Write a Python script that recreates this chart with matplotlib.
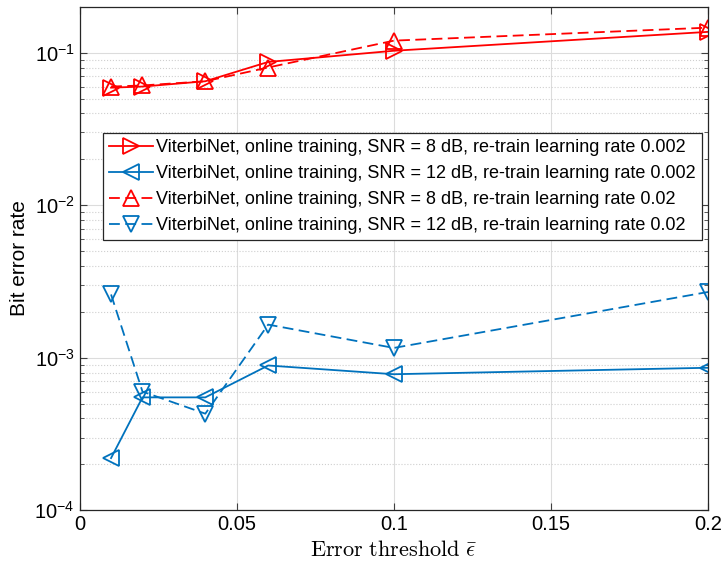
import matplotlib

matplotlib.use("Agg")
import matplotlib.pyplot as plt
from matplotlib.ticker import LogLocator, NullFormatter

plt.rcParams["font.family"] = ["Liberation Sans", "DejaVu Sans"]
plt.rcParams["mathtext.fontset"] = "custom"
plt.rcParams["mathtext.rm"] = "Liberation Sans"
plt.rcParams["mathtext.it"] = "Liberation Sans:italic"

# error thresholds
thresholds = [0.01, 0.02, 0.04, 0.06, 0.1, 0.2]

# bit error rates
ber_8db_lr0002 = [0.059, 0.060, 0.065, 0.087, 0.103, 0.137]
ber_12db_lr0002 = [2.2e-4, 5.5e-4, 5.5e-4, 8.9e-4, 7.8e-4, 8.6e-4]
ber_8db_lr002 = [0.060, 0.061, 0.065, 0.080, 0.120, 0.146]
ber_12db_lr002 = [2.6e-3, 6.0e-4, 4.3e-4, 1.65e-3, 1.16e-3, 2.7e-3]

labels = [
    "ViterbiNet, online training, SNR = 8 dB, re-train learning rate 0.002",
    "ViterbiNet, online training, SNR = 12 dB, re-train learning rate 0.002",
    "ViterbiNet, online training, SNR = 8 dB, re-train learning rate 0.02",
    "ViterbiNet, online training, SNR = 12 dB, re-train learning rate 0.02",
]

red = "#FF0000"
blue = "#0072BD"

fig = plt.figure(figsize=(7.24, 5.67), dpi=100)
ax = fig.add_axes([0.11, 0.1, 0.868, 0.888])

mk = dict(markersize=11, markerfacecolor="none", markeredgewidth=1.3, linewidth=1.3)
ax.semilogy(thresholds, ber_8db_lr0002, "-", marker=">", color=red, label=labels[0], **mk)
ax.semilogy(thresholds, ber_12db_lr0002, "-", marker="<", color=blue, label=labels[1], **mk)
ax.semilogy(thresholds, ber_8db_lr002, "--", marker="^", color=red, label=labels[2],
            dashes=(6, 3), **mk)
ax.semilogy(thresholds, ber_12db_lr002, "--", marker="v", color=blue, label=labels[3],
            dashes=(6, 3), **mk)

ax.set_xlim(0, 0.2)
ax.set_ylim(1e-4, 0.2)
ax.set_xticks([0, 0.05, 0.1, 0.15, 0.2])
ax.set_xticklabels(["0", "0.05", "0.1", "0.15", "0.2"])
ax.yaxis.set_major_locator(LogLocator(base=10, numticks=10))
ax.yaxis.set_minor_locator(LogLocator(base=10, subs=range(2, 10), numticks=20))
ax.yaxis.set_minor_formatter(NullFormatter())

ax.grid(True, which="major", color="#dcdcdc", linewidth=0.8)
ax.grid(True, which="minor", axis="y", color="#cfcfcf", linestyle=":", linewidth=0.8)
ax.set_axisbelow(True)
ax.tick_params(which="both", direction="in", top=True, right=True, labelsize=14.5,
               color="#404040")
ax.tick_params(which="major", length=5)
ax.tick_params(which="minor", length=3)
for s in ax.spines.values():
    s.set_color("#262626")
    s.set_linewidth(0.9)

ax.set_ylabel("Bit error rate", fontsize=15)
xl = ax.set_xlabel(r"$\mathrm{Error\ threshold}\ \bar{\epsilon}$", fontsize=16, labelpad=4)
xl.set_math_fontfamily("cm")

leg = ax.legend(loc="upper left", bbox_to_anchor=(0.037, 0.75), fontsize=13,
                fancybox=False, edgecolor="#262626", framealpha=1,
                handlelength=2.4, handletextpad=0.2, borderpad=0.35,
                labelspacing=0.5, borderaxespad=0)
leg.get_frame().set_linewidth(0.9)

fig.savefig("out.png", dpi=100)
plt.close(fig)
